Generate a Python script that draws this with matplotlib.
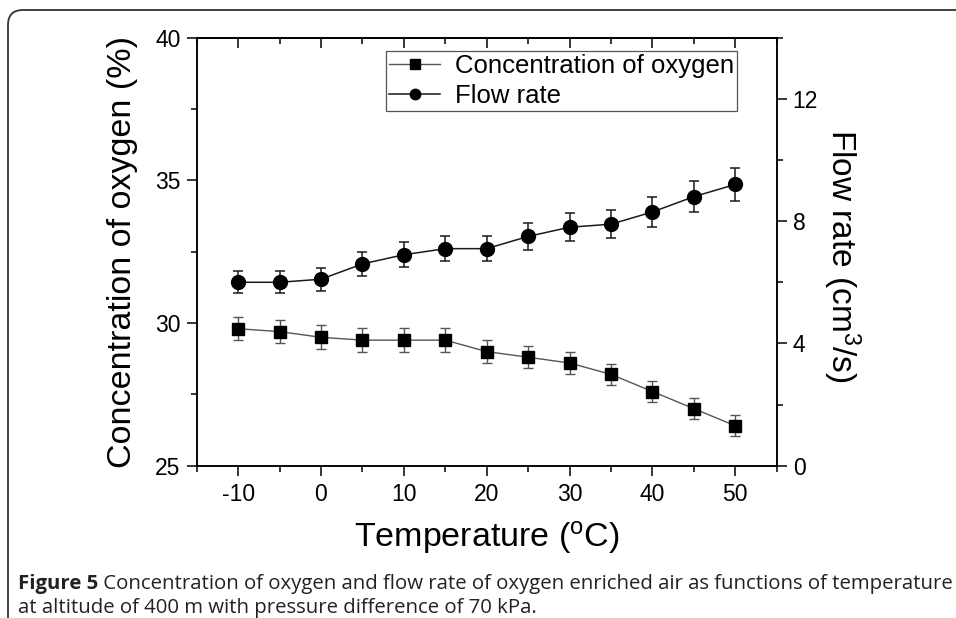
import matplotlib
matplotlib.use("Agg")
import matplotlib.pyplot as plt
from matplotlib import font_manager
from matplotlib.path import Path
from matplotlib.patches import PathPatch
from matplotlib.ticker import MultipleLocator, FixedLocator

# ---------------- data ----------------
temperature = [-10, -5, 0, 5, 10, 15, 20, 25, 30, 35, 40, 45, 50]
oxygen_conc = [29.8, 29.7, 29.5, 29.4, 29.4, 29.4, 29.0, 28.8, 28.6, 28.2, 27.6, 27.0, 26.4]
oxygen_err = [0.40, 0.40, 0.42, 0.42, 0.42, 0.42, 0.39, 0.38, 0.39, 0.36, 0.36, 0.37, 0.37]
flow_rate = [6.0, 6.0, 6.1, 6.6, 6.9, 7.1, 7.1, 7.5, 7.8, 7.9, 8.3, 8.8, 9.2]
flow_err = [0.36, 0.36, 0.37, 0.39, 0.41, 0.41, 0.41, 0.44, 0.46, 0.46, 0.49, 0.50, 0.53]

x_ticks = [-10, 0, 10, 20, 30, 40, 50]
left_ticks = [25, 30, 35, 40]
right_ticks = [0, 4, 8, 12]

label_oxygen = "Concentration of oxygen"
label_flow = "Flow rate"
xlabel = r"Temperature ($\mathregular{^o}$C)"
ylabel_left = "Concentration of oxygen (%)"
ylabel_right = r"Flow rate (cm$\mathregular{^3}$/s)"
caption_bold = "Figure 5"
caption_line1 = " Concentration of oxygen and flow rate of oxygen enriched air as functions of temperature"
caption_line2 = "at altitude of 400 m with pressure difference of 70 kPa."

# ---------------- style ----------------
plt.rcParams["font.family"] = ["Liberation Sans", "DejaVu Sans"]
plt.rcParams["mathtext.default"] = "regular"

W, H = 956, 618
fig = plt.figure(figsize=(W / 100, H / 100), dpi=100)
fig.patch.set_facecolor("white")

L, R, T, B = 196.7, 776.7, 37.7, 465.7
ax = fig.add_axes([L / W, 1 - B / H, (R - L) / W, (B - T) / H])
ax2 = ax.twinx()

gray = "#555555"
dark = "#1a1a1a"

# oxygen concentration (left axis)
ax.errorbar(temperature, oxygen_conc, yerr=oxygen_err, fmt="none",
            ecolor=gray, elinewidth=1.0, capsize=3.8, capthick=1.0, zorder=2)
l1, = ax.plot(temperature, oxygen_conc, color=gray, lw=1.0, marker="s",
              ms=9.3, mfc="black", mec="black", zorder=3, label=label_oxygen)

# flow rate (right axis)
ax2.errorbar(temperature, flow_rate, yerr=flow_err, fmt="none",
             ecolor=dark, elinewidth=1.1, capsize=3.8, capthick=1.1, zorder=2)
l2, = ax2.plot(temperature, flow_rate, color=dark, lw=1.1, marker="o",
               ms=10, mfc="black", mec="black", zorder=3, label=label_flow)

ax.set_xlim(-15, 55)
ax.set_ylim(25, 40)
ax2.set_ylim(0, 14)

ax.xaxis.set_major_locator(FixedLocator(x_ticks))
ax.xaxis.set_minor_locator(MultipleLocator(5))
ax.yaxis.set_major_locator(FixedLocator(left_ticks))
ax.yaxis.set_minor_locator(MultipleLocator(2.5))
ax2.yaxis.set_major_locator(FixedLocator(right_ticks))
ax2.yaxis.set_minor_locator(MultipleLocator(2))
ax.set_xticklabels([str(t) for t in x_ticks])
ax.set_yticklabels([str(t) for t in left_ticks])
ax2.set_yticklabels([str(t) for t in right_ticks])

for a in (ax, ax2):
    for s in a.spines.values():
        s.set_linewidth(1.1)
        s.set_color("black")

ax.tick_params(axis="x", which="both", direction="out", bottom=True, top=False,
               labelsize=16.5, pad=5)
ax.tick_params(axis="y", which="both", direction="out", left=True, right=False,
               labelsize=16.5, pad=4)
ax.tick_params(which="major", length=7.5, width=1.1)
ax.tick_params(which="minor", length=4, width=1.1)
ax2.tick_params(axis="y", which="both", direction="out", right=True, labelsize=16.5, pad=4)
ax2.tick_params(which="major", length=7.5, width=1.1)
ax2.tick_params(which="minor", length=4, width=1.1)

# top ticks pointing inward
sec = ax.secondary_xaxis("top")
sec.xaxis.set_major_locator(FixedLocator(x_ticks))
sec.xaxis.set_minor_locator(MultipleLocator(5))
sec.tick_params(axis="x", which="both", direction="in", labeltop=False, width=1.1)
sec.tick_params(which="major", length=7.5)
sec.tick_params(which="minor", length=4)
sec.spines["top"].set_linewidth(1.1)

# axis labels
ax.set_xlabel(xlabel, fontsize=24.5)
ax.xaxis.label.set_va("center")
ax.xaxis.set_label_coords(0.5, (B - 537) / (B - T))
ax.set_ylabel(ylabel_left, fontsize=24.5)
ax.yaxis.label.set_va("center")
ax.yaxis.set_label_coords((122 - L) / (R - L), 0.5)
ax2.set_ylabel(ylabel_right, fontsize=24, rotation=270)
ax2.yaxis.label.set_va("center")
ax2.yaxis.set_label_coords((842 - L) / (R - L), 0.49)

# legend
leg = ax2.legend([l1, l2], [label_oxygen, label_flow], loc="upper left",
                 bbox_to_anchor=((386 - L) / (R - L), (B - 50.5) / (B - T)),
                 fontsize=18.5, frameon=True, fancybox=False, edgecolor="#555555",
                 framealpha=1, handlelength=2.0, handletextpad=0.55,
                 borderpad=0.12, labelspacing=0.25, markerscale=0.75,
                 borderaxespad=0)
leg.get_frame().set_linewidth(0.9)

# journal frame with rounded corner (top-left)
x0, y0, r = 8.0, 10.0, 15.0
verts = [(x0, H), (x0, y0 + r), (x0, y0), (x0 + r, y0), (W, y0)]
codes = [Path.MOVETO, Path.LINETO, Path.CURVE3, Path.CURVE3, Path.LINETO]
verts = [(vx / W, 1 - vy / H) for vx, vy in verts]
frame = PathPatch(Path(verts, codes), transform=fig.transFigure, fill=False,
                  edgecolor="#333333", lw=1.3)
fig.add_artist(frame)

# caption (font size fitted so the first line spans the panel width)
names = {f.name for f in font_manager.fontManager.ttflist}
cap_family = "Liberation Sans Narrow" if "Liberation Sans Narrow" in names else "Open Sans"
cap_font = [cap_family, "DejaVu Sans"]
fig.canvas.draw()
renderer = fig.canvas.get_renderer()
x_start, x_end = 18.0, 950.0
y1, y2 = 1 - 584 / H, 1 - 608 / H

def caption_width(size):
    t1 = fig.text(0, 0, caption_bold, fontsize=size, fontweight="bold", family=cap_font)
    t2 = fig.text(0, 0, caption_line1, fontsize=size, family=cap_font)
    w = t1.get_window_extent(renderer).width + t2.get_window_extent(renderer).width
    t1.remove()
    t2.remove()
    return w

cap_size = 12.0
cap_size *= (x_end - x_start) / caption_width(cap_size)

tb = fig.text(x_start / W, y1, caption_bold, fontsize=cap_size, fontweight="bold",
              family=cap_font, va="center", ha="left", color="#222222")
bb = tb.get_window_extent(renderer=renderer)
fig.text(bb.x1 / W, y1, caption_line1, fontsize=cap_size, family=cap_font,
         va="center", ha="left", color="#222222")
fig.text(x_start / W, y2, caption_line2, fontsize=cap_size, family=cap_font,
         va="center", ha="left", color="#222222")

fig.savefig("out.png", dpi=100, facecolor="white")
